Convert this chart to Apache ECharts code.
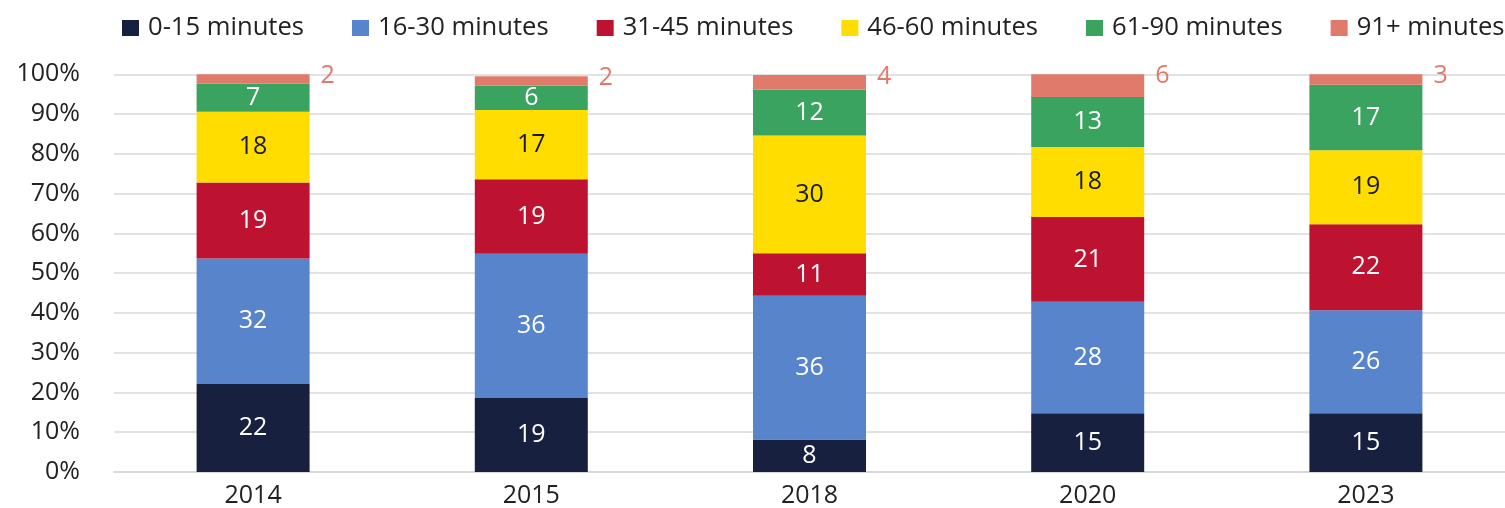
<!DOCTYPE html>
<html>
<head>
<meta charset="utf-8">
<style>
  html, body { margin: 0; padding: 0; background: #ffffff; }
  #chart { width: 1505px; height: 508px; }
</style>
<script src="https://cdn.jsdelivr.net/npm/echarts@6/dist/echarts.min.js"></script>
</head>
<body>
<div id="chart"></div>
<script>
// Survey years on the category axis
const years = ['2014', '2015', '2018', '2020', '2023'];

// Share of respondents (%) by time band, one value per year
const min0to15   = [22.1, 18.6,  8.2, 14.8, 14.8];
const min16to30  = [31.6, 36.3, 36.1, 28.0, 25.9];
const min31to45  = [19.1, 18.7, 10.7, 21.3, 21.6];
const min46to60  = [17.8, 17.4, 29.6, 17.6, 18.6];
const min61to90  = [ 7.0,  6.1, 11.6, 12.6, 16.5];
const min91plus  = [ 2.4,  2.4,  3.6,  5.7,  2.6];

// Y axis tick values (percent)
const yTicks = [0, 10, 20, 30, 40, 50, 60, 70, 80, 90, 100];

const FONT = '"Open Sans", "Noto Sans", sans-serif';
const FS = 25;

const bands = [
  { name: '0-15 minutes',  data: min0to15,  color: '#182040', text: '#ffffff' },
  { name: '16-30 minutes', data: min16to30, color: '#5884cc', text: '#ffffff' },
  { name: '31-45 minutes', data: min31to45, color: '#bd1330', text: '#ffffff' },
  { name: '46-60 minutes', data: min46to60, color: '#ffdd00', text: '#1a1a1a' },
  { name: '61-90 minutes', data: min61to90, color: '#3aa360', text: '#ffffff' },
  { name: '91+ minutes',   data: min91plus, color: '#e07b6c', text: '#e07b6c', outside: true }
];

const series = bands.map(b => ({
  name: b.name,
  type: 'bar',
  stack: 'total',
  barWidth: 113,
  data: b.data,
  itemStyle: { color: b.color },
  label: b.outside ? {
    show: true,
    position: ['100%', 0],
    offset: [11, 2],
    align: 'left',
    verticalAlign: 'middle',
    color: b.text,
    fontFamily: FONT,
    fontSize: FS,
    formatter: p => Math.round(p.value)
  } : {
    show: true,
    position: 'inside',
    color: b.text,
    fontFamily: FONT,
    fontSize: FS,
    formatter: p => Math.round(p.value)
  }
}));

const chart = echarts.init(document.getElementById('chart'), null, { renderer: 'canvas' });
chart.setOption({
  animation: false,
  backgroundColor: '#ffffff',
  color: bands.map(b => b.color),
  legend: {
    left: 122,
    top: 15,
    width: 1383,
    padding: 0,
    itemWidth: 17,
    itemHeight: 16,
    itemGap: 48,
    icon: 'rect',
    textStyle: { fontFamily: FONT, fontSize: 25.6, color: '#222222', padding: [0, 0, 0, 4] },
    data: bands.map(b => b.name)
  },
  grid: { left: 114, top: 74.3, width: 1401, height: 400.7, containLabel: false },
  xAxis: {
    type: 'category',
    data: years,
    axisTick: { show: false },
    axisLine: { lineStyle: { color: '#d4d4d4', width: 1.5 } },
    axisLabel: { fontFamily: FONT, fontSize: FS, color: '#222222', margin: 11 }
  },
  yAxis: {
    type: 'value',
    min: yTicks[0],
    max: yTicks[yTicks.length - 1],
    interval: yTicks[1] - yTicks[0],
    axisLine: { show: false },
    axisTick: { show: false },
    splitLine: { lineStyle: { color: '#d9d9d9', width: 1.5 } },
    axisLabel: {
      fontFamily: FONT, fontSize: FS, color: '#222222', margin: 34,
      padding: [0, 0, 7, 0],
      formatter: '{value}%'
    }
  },
  series: series
});
</script>
</body>
</html>
